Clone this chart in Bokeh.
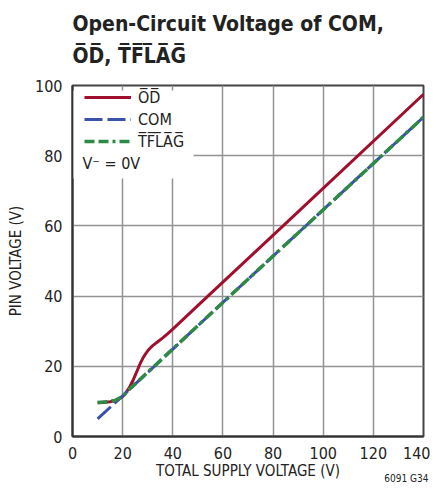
from bokeh.plotting import figure
from bokeh.models import Label, Legend, LegendItem, BoxAnnotation, FixedTicker, Range1d, Title
from bokeh.embed import file_html
from bokeh.resources import INLINE

# ---- data ----
od_x = [10, 12, 15, 18, 20, 21, 22, 23, 24, 25, 26, 27, 28, 29, 30, 31, 32, 34, 36, 38, 40, 54, 84, 140]
od_y = [9.6, 9.7, 9.9, 10.4, 11.4, 12.2, 13.2, 14.4, 15.8, 17.4, 19.1, 20.8, 22.2, 23.4, 24.4, 25.2, 25.9, 27.0, 28.1, 29.3, 30.6, 40.0, 60.0, 97.5]
com_x = [10, 20, 60, 80, 140]
com_y = [5.0, 11.6, 38.2, 51.4, 91.0]
tflag_x = [10, 14, 17, 20, 22, 25, 30, 60, 80, 140]
tflag_y = [9.7, 9.9, 10.3, 11.4, 13.0, 15.0, 18.3, 38.2, 51.4, 91.0]
x_ticks = [0, 20, 40, 60, 80, 100, 120, 140]
y_ticks = [0, 20, 40, 60, 80, 100]

FONT = "DejaVu Sans Condensed, Roboto, sans-serif"
RED = "#a0102c"
BLUE = "#3a52a8"
GREEN = "#2f8a45"
TXT = "#222222"
OL = "\u0305"


def over(s):
    return "".join(c + OL for c in s)


p = figure(width=430, height=500, output_backend="svg", toolbar_location=None,
           x_range=Range1d(0, 140), y_range=Range1d(0, 100),
           min_border_left=72, min_border_right=7, min_border_top=85, min_border_bottom=64)

p.xaxis.ticker = FixedTicker(ticks=x_ticks)
p.yaxis.ticker = FixedTicker(ticks=y_ticks)
for ax in (p.xaxis[0], p.yaxis[0]):
    ax.major_tick_out = 0
    ax.major_tick_in = 0
    ax.minor_tick_out = 0
    ax.minor_tick_in = 0
    ax.axis_line_color = "#333333"
    ax.axis_line_width = 2
    ax.major_label_text_font = FONT
    ax.major_label_text_font_size = "16px"
    ax.major_label_text_color = TXT
    ax.axis_label_text_font = FONT
    ax.axis_label_text_font_size = "15px"
    ax.axis_label_text_font_style = "normal"
    ax.axis_label_text_color = TXT
    ax.major_label_standoff = 10
p.xaxis.axis_label = "TOTAL SUPPLY VOLTAGE (V)"
p.yaxis.axis_label = "PIN VOLTAGE (V)"
p.xaxis.axis_label_standoff = 0
p.yaxis.axis_label_standoff = 7

p.grid.grid_line_color = "#939393"
p.grid.grid_line_width = 1.5
p.outline_line_color = "#444444"
p.outline_line_width = 2

# white legend area
p.add_layout(BoxAnnotation(left=0.4, right=48.3, bottom=73.5, top=98.6,
                           fill_color="white", fill_alpha=1.0, line_alpha=0))

r_od = p.line(od_x, od_y, line_color=RED, line_width=3)
r_com = p.line(com_x, com_y, line_color=BLUE, line_width=3, line_dash="18 5")
r_tf = p.line(tflag_x, tflag_y, line_color=GREEN, line_width=3.5, line_dash="10 4 10 4 3 4")

legend = Legend(items=[
    LegendItem(label=over("OD"), renderers=[r_od]),
    LegendItem(label="COM", renderers=[r_com]),
    LegendItem(label=over("TFLAG"), renderers=[r_tf]),
], location=(12, 284), margin=0, padding=0, spacing=0,
    glyph_width=47, glyph_height=22, label_height=22, label_standoff=7,
    label_text_font=FONT, label_text_font_size="16px", label_text_color=TXT,
    background_fill_alpha=0, border_line_alpha=0)
p.add_layout(legend, "center")

p.add_layout(Label(x=10, y=273, x_units="screen", y_units="screen", text="V\u207B = 0V",
                   text_font=FONT, text_font_size="16px", text_color=TXT,
                   text_baseline="middle"))

# titles: spacer next to the frame, then the two title lines
p.add_layout(Title(text=".", text_font=FONT, text_font_size="10px", text_color="white",
                   standoff=8), "above")
p.add_layout(Title(text=over("OD") + ", " + over("TFLAG"), align="left",
                   text_font=FONT, text_font_size="21px", text_font_style="bold",
                   text_color=TXT, standoff=0), "above")
p.add_layout(Title(text="Open-Circuit Voltage of COM,", align="left",
                   text_font=FONT, text_font_size="21px", text_font_style="bold",
                   text_color=TXT, standoff=12), "above")
p.add_layout(Title(text="6091 G34", align="right", text_font=FONT, offset=-5,
                   text_font_size="10px", text_font_style="normal", text_color=TXT,
                   vertical_align="top", standoff=-20), "below")

open("out.html", "w").write(file_html(p, INLINE))
